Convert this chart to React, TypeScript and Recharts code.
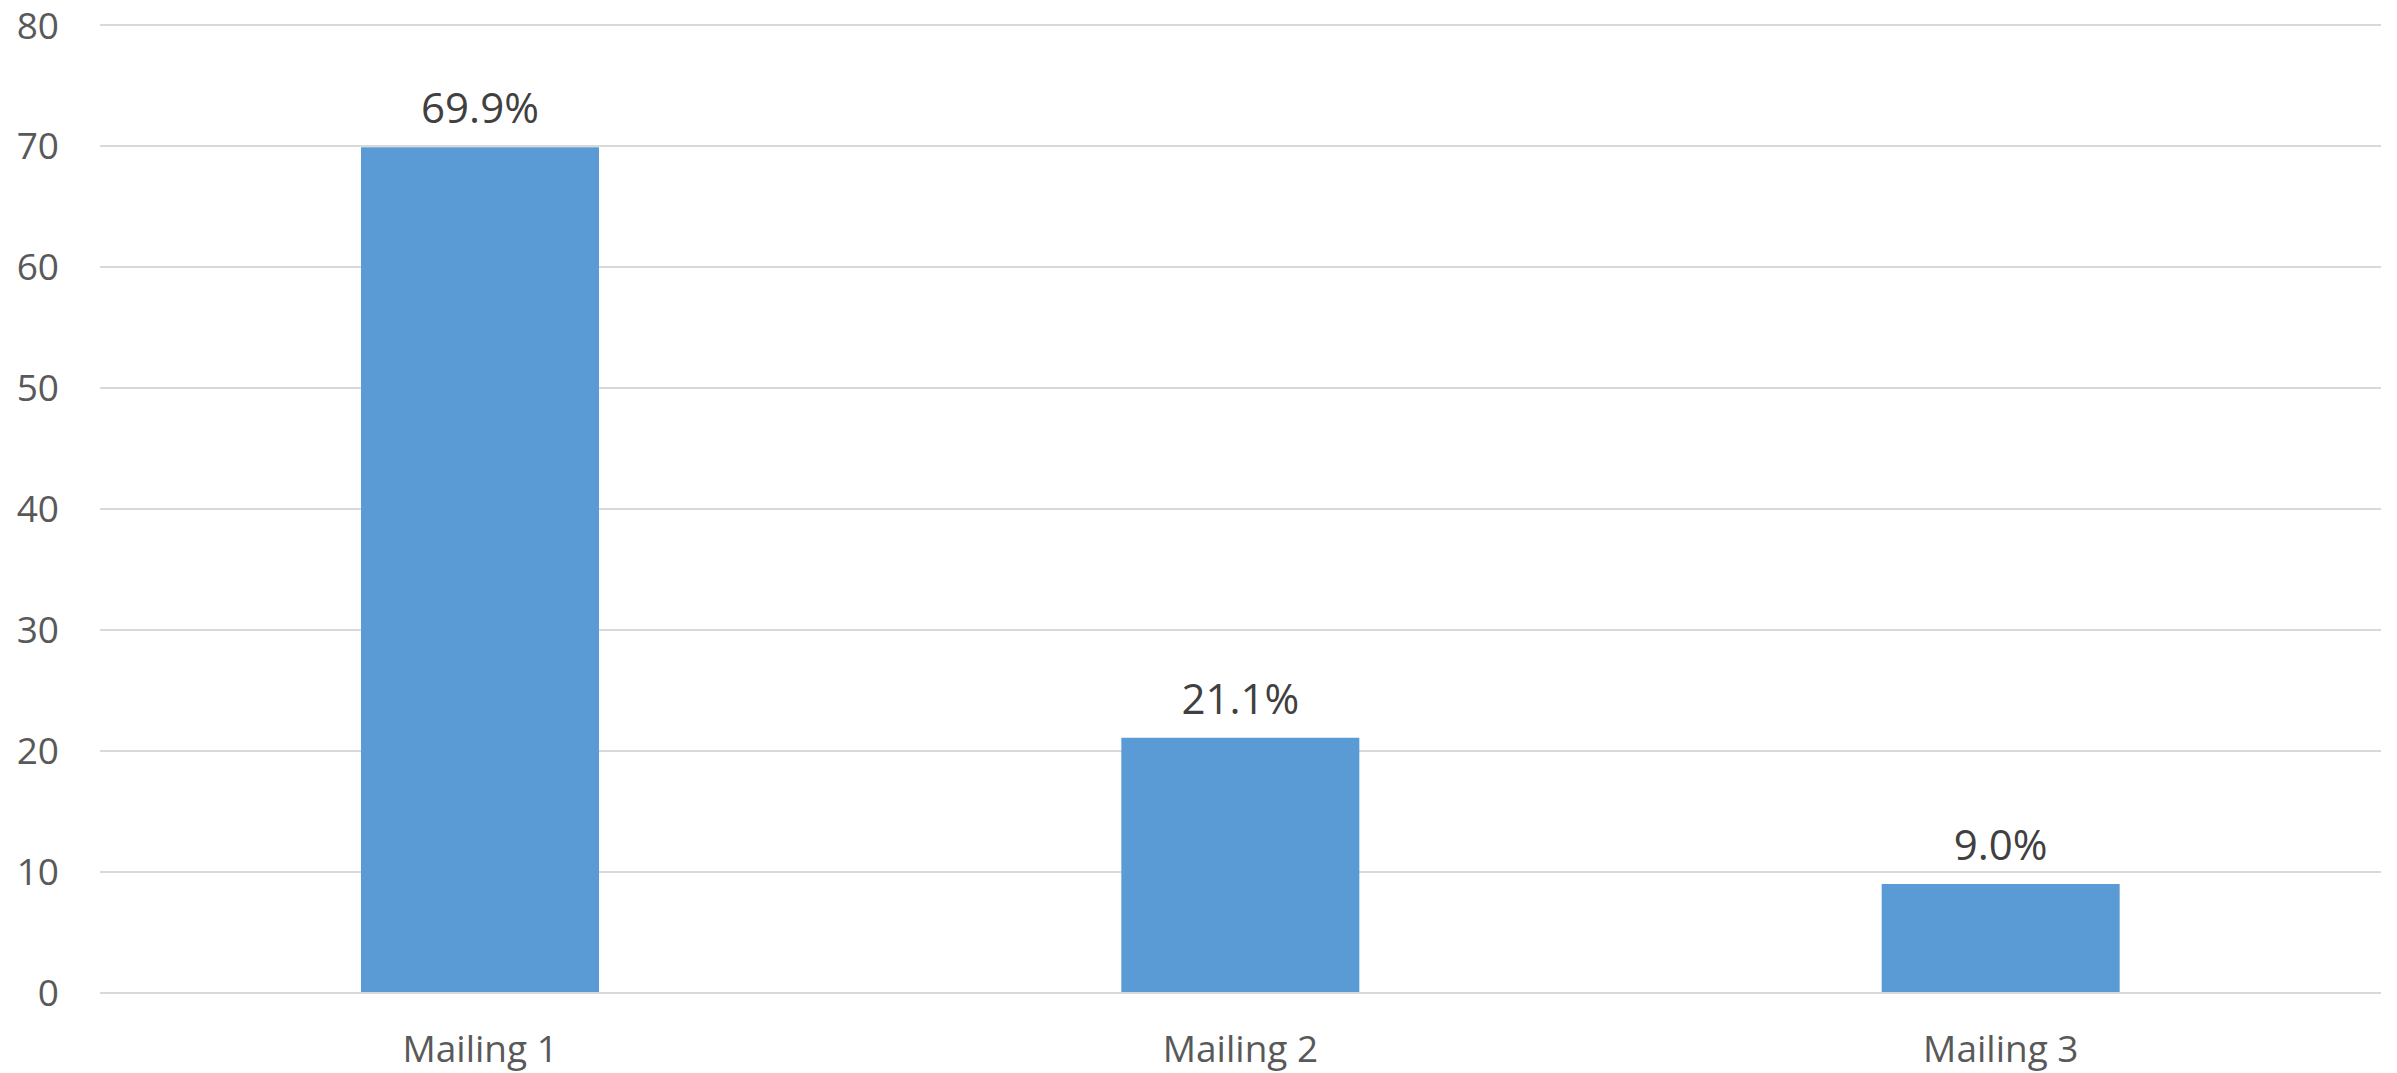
import { BarChart, Bar, XAxis, YAxis, CartesianGrid, LabelList } from "recharts";

const categories = ["Mailing 1", "Mailing 2", "Mailing 3"];
const shares = [69.9, 21.1, 9.0];
const yTicks = [0, 10, 20, 30, 40, 50, 60, 70, 80];

const data = categories.map((name, i) => ({ name, value: shares[i] }));

const font = "'Open Sans', 'Liberation Sans', sans-serif";

export default function App() {
  return (
    <div style={{ position: "absolute", left: 0, top: 0, width: 2397, height: 1073, background: "#fff" }}>
      <BarChart
        width={2397}
        height={1073}
        data={data}
        margin={{ top: 25, right: 16, left: 0, bottom: 0 }}
        barSize={238}
      >
        <CartesianGrid vertical={false} stroke="#d9d9d9" strokeWidth={2} />
        <XAxis
          dataKey="name"
          height={80}
          axisLine={{ stroke: "#d9d9d9", strokeWidth: 2 }}
          tickLine={false}
          tickSize={0}
          tickMargin={43}
          tick={{ fill: "#595959", fontSize: 37, fontFamily: font }}
        />
        <YAxis
          width={100}
          domain={[0, 80]}
          ticks={yTicks}
          axisLine={false}
          tickLine={false}
          tickSize={0}
          tickMargin={41}
          tick={{ fill: "#595959", fontSize: 37, fontFamily: font }}
        />
        <Bar dataKey="value" fill="#5b9bd5" isAnimationActive={false}>
          <LabelList
            dataKey="value"
            position="top"
            offset={24}
            formatter={(v: number) => `${Number(v).toFixed(1)}%`}
            style={{ fill: "#404040", fontSize: 42, fontFamily: font }}
          />
        </Bar>
      </BarChart>
    </div>
  );
}
